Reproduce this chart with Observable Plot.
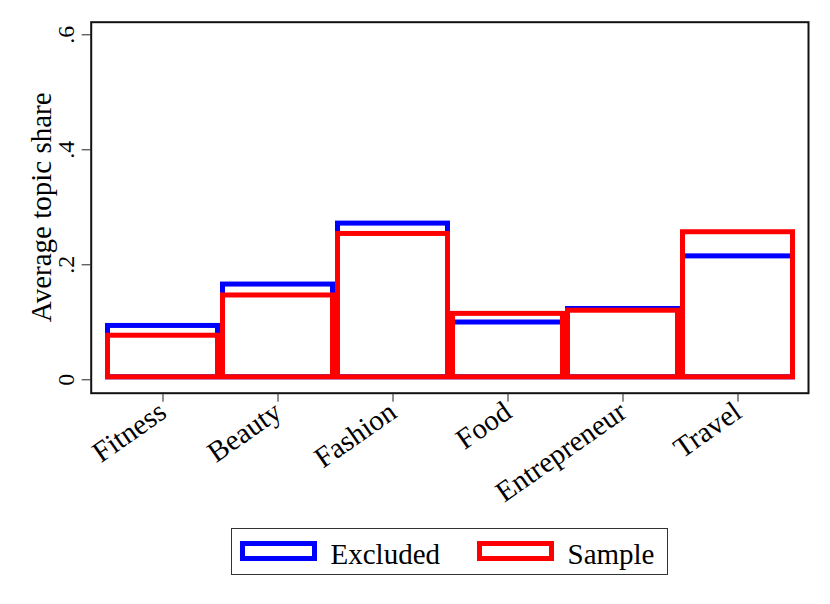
<!DOCTYPE html>
<html><head><meta charset="utf-8">
<script src="https://cdn.jsdelivr.net/npm/d3@7"></script>
<script src="https://cdn.jsdelivr.net/npm/@observablehq/plot@0.6"></script>
<style>
body{margin:0;background:#fff;font-family:"Liberation Serif","Times New Roman",serif;}
#wrap{position:relative;width:830px;height:604px;background:#fff;}
#chart{position:absolute;left:0;top:0;}
.legend{position:absolute;left:231px;top:528px;width:437px;height:47px;border:1.5px solid #333;box-sizing:border-box;}
.sw{position:absolute;top:12px;width:77px;height:20px;border:5px solid;box-sizing:border-box;}
.lab{position:absolute;top:10.5px;font-size:29px;line-height:1;color:#000;white-space:nowrap;}
</style>
</head><body>
<div id="wrap"><div id="chart"></div>
<div class="legend" id="legend"></div>
</div>
<script>
const categories = ["Fitness","Beauty","Fashion","Food","Entrepreneur","Travel"];
const excluded = [0.098,0.170,0.276,0.104,0.1275,0.219];
const sample = [0.081,0.151,0.258,0.119,0.1245,0.261];
const yTicks = [0,0.2,0.4,0.6];
const yTickLabels = ["0",".2",".4",".6"];
const seriesNames = ["Excluded","Sample"];
const seriesColors = ["#0000ff","#ff0000"];

const rows = (vals) => categories.map((c,i)=>({category:c, value: vals[i]}));
const serif = "'Liberation Serif', 'Times New Roman', serif";

const chart = Plot.plot({
  width: 830, height: 500,
  marginLeft: 104, marginRight: 34.3, marginTop: 34.3, marginBottom: 120.7,
  style: {fontFamily: serif, background: "white", color: "black", overflow: "visible"},
  x: {domain: categories, padding: 0, label: null},
  y: {domain: [0, 0.6], label: null},
  marks: [
    Plot.barY(rows(excluded), {x: "category", y: "value", fill: "none", stroke: seriesColors[0], strokeWidth: 5, inset: 2.5}),
    Plot.barY(rows(sample), {x: "category", y: "value", fill: "none", stroke: seriesColors[1], strokeWidth: 5, inset: 2.5}),
    Plot.frame({stroke: "#111", strokeWidth: 2, insetLeft: -13.3, insetRight: -12.3, insetTop: -12.6, insetBottom: -13.4}),
    Plot.axisX({tickSize: 9, dy: 13.4, tickRotate: -35, fontSize: 29, fontFamily: serif, stroke: "#222", fill: "#000"}),
    Plot.axisY({ticks: yTicks, tickFormat: d => yTickLabels[yTicks.indexOf(d)], tickSize: 9, dx: -13.3, tickRotate: -90, tickPadding: 8.2, fontSize: 24, fontFamily: serif, stroke: "#222", fill: "#000"}),
    Plot.text(["Average topic share"], {frameAnchor: "left", text: d => d, rotate: -90, dx: -54, fontSize: 29, fontFamily: serif, textAnchor: "middle", lineAnchor: "bottom", fill: "#000"})
  ]
});
document.getElementById("chart").appendChild(chart);

const leg = document.getElementById("legend");
const swLeft = [7.5, 244.5], labLeft = [98.5, 335.5];
seriesNames.forEach((n, i) => {
  const s = document.createElement("div");
  s.className = "sw"; s.style.left = swLeft[i] + "px"; s.style.borderColor = seriesColors[i];
  leg.appendChild(s);
  const t = document.createElement("div");
  t.className = "lab"; t.style.left = labLeft[i] + "px"; t.textContent = n;
  leg.appendChild(t);
});
</script>
</body></html>
